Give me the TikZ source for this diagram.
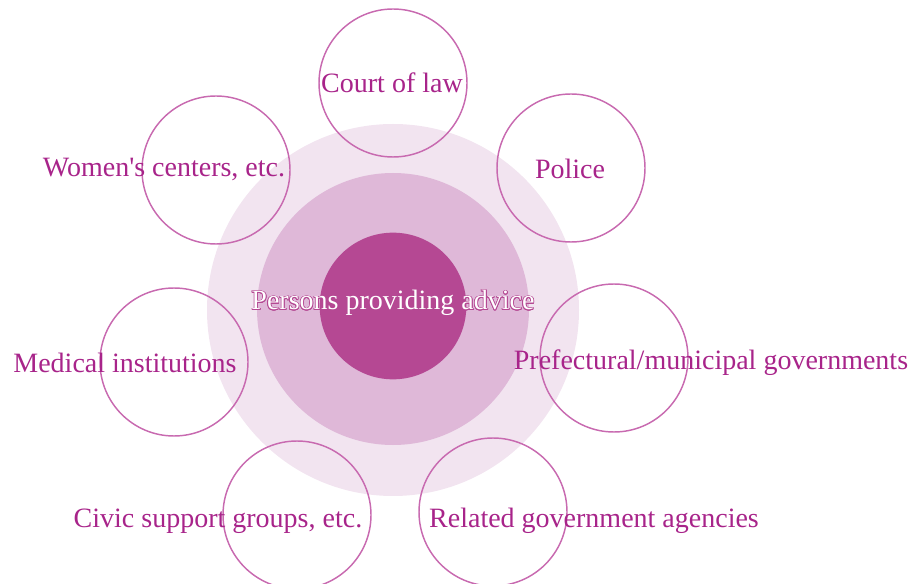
\documentclass[tikz,border=0pt]{standalone}
\usepackage{fontspec}
\setmainfont{Liberation Serif}
\usepackage{contour}
\contourlength{0.5pt}
\definecolor{labeltext}{HTML}{A8248A}
\definecolor{ringline}{HTML}{C86AB0}
\definecolor{outerfill}{HTML}{F2E4F0}
\definecolor{middlefill}{HTML}{DFB8D8}
\definecolor{innerfill}{HTML}{B54893}
\begin{document}
\begin{tikzpicture}[
    x=0.75pt,y=-0.75pt,
    ring/.style={circle,draw=ringline,line width=1.1pt,inner sep=0pt,minimum size=111pt},
    disc/.style={circle,inner sep=0pt},
    label/.style={text=labeltext,anchor=base,inner sep=0pt,font=\fontsize{21}{24}\selectfont}
    ]
    \useasboundingbox (0,0) rectangle (910,584);

    % centre discs:
    \node (outer) at (393,310) [disc,fill=outerfill,minimum size=279pt] {};
    \node (middle) at (393,309) [disc,fill=middlefill,minimum size=204pt] {};
    \node (inner) at (393,306) [disc,fill=innerfill,minimum size=110pt] {};

    % surrounding rings:
    \node (court) at (393,83) [ring] {};
    \node (police) at (571,168) [ring] {};
    \node (pref) at (614,358) [ring] {};
    \node (related) at (493,512) [ring] {};
    \node (civic) at (297,515) [ring] {};
    \node (medical) at (174,362) [ring] {};
    \node (women) at (216,170) [ring] {};

    % labels:
    \node (tcourt) at (392,93) [label] {Court of law};
    \node (tpolice) at (570,179) [label] {Police};
    \node (tpref) at (711,369) [label] {Prefectural/municipal governments};
    \node (trelated) at (594,527) [label] {Related government agencies};
    \node (tcivic) at (218,527) [label] {Civic support groups, etc.};
    \node (tmedical) at (125,373) [label] {Medical institutions};
    \node (twomen) at (164,177) [label] {Women\textquotesingle s centers, etc.};

    \node (tcentre) at (393,310) [label,text=white] {\contour{innerfill}{Persons providing advice}};
\end{tikzpicture}
\end{document}
